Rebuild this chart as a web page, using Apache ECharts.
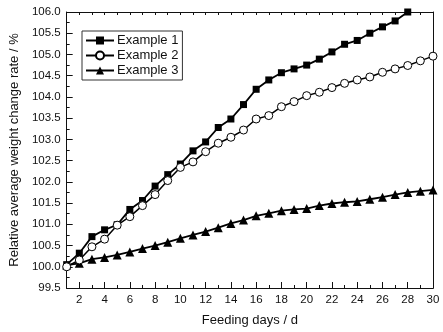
<!DOCTYPE html>
<html>
<head>
<meta charset="utf-8">
<script src="https://cdn.jsdelivr.net/npm/echarts@6/dist/echarts.min.js"></script>
<style>
  html, body { margin: 0; padding: 0; background: #fff; }
  #chart { width: 443px; height: 332px; }
</style>
</head>
<body>
<div id="chart"></div>
<script>
// Feeding days 1..30
const days = Array.from({ length: 30 }, (_, i) => i + 1);

// Relative average weight change rate (%) per example
const example1 = [100.05, 100.32, 100.71, 100.87, 100.99, 101.35, 101.56, 101.90, 102.17, 102.42,
                  102.73, 102.94, 103.28, 103.48, 103.82, 104.18, 104.40, 104.57, 104.66, 104.75,
                  104.89, 105.06, 105.24, 105.33, 105.50, 105.65, 105.79, 106.00, 106.16, 106.32];
const example2 = [100.00, 100.16, 100.47, 100.65, 100.98, 101.18, 101.44, 101.70, 102.03, 102.34,
                  102.47, 102.71, 102.91, 103.05, 103.22, 103.48, 103.56, 103.77, 103.89, 104.03,
                  104.11, 104.22, 104.32, 104.40, 104.47, 104.58, 104.66, 104.74, 104.85, 104.96];
const example3 = [100.04, 100.08, 100.18, 100.22, 100.28, 100.35, 100.43, 100.50, 100.58, 100.67,
                  100.75, 100.83, 100.92, 101.02, 101.10, 101.20, 101.26, 101.32, 101.35, 101.37,
                  101.44, 101.49, 101.52, 101.54, 101.59, 101.64, 101.70, 101.75, 101.78, 101.81];

const seriesNames = ['Example 1', 'Example 2', 'Example 3'];

// Axis ticks
const xMajorTicks = [2, 4, 6, 8, 10, 12, 14, 16, 18, 20, 22, 24, 26, 28, 30];
const xMinorTicks = [1, 3, 5, 7, 9, 11, 13, 15, 17, 19, 21, 23, 25, 27, 29];
const yMin = 99.5, yMax = 106.0, yStep = 0.5;

const FONT = 'Liberation Sans, Arial, sans-serif';
const INK = '#111';

const pairs = arr => days.map((d, i) => [d, arr[i]]);

const chart = echarts.init(document.getElementById('chart'), null, { renderer: 'canvas' });

const baseX = {
  type: 'value', min: 1, max: 30,
  splitLine: { show: false },
  axisLine: { show: true, onZero: false, lineStyle: { color: INK, width: 1 } }
};

chart.setOption({
  animation: false,
  backgroundColor: '#fff',
  grid: { left: 59, right: 10, top: 12, bottom: 44, containLabel: false },
  legend: {
    orient: 'vertical', left: 82, top: 31,
    data: seriesNames,
    itemWidth: 28, itemHeight: 10, itemGap: 2,
    padding: [3, 4, 3, 3],
    borderColor: '#333', borderWidth: 1,
    textStyle: { fontFamily: FONT, fontSize: 13, lineHeight: 13, color: INK, padding: [0, 0, 0, -2] }
  },
  xAxis: [
    Object.assign({}, baseX, {
      position: 'bottom',
      name: 'Feeding days / d', nameLocation: 'middle', nameGap: 26,
      nameTextStyle: { fontFamily: FONT, fontSize: 13, color: INK },
      axisTick: { show: true, inside: true, length: 6, customValues: xMajorTicks, lineStyle: { color: INK } },
      axisLabel: { show: true, customValues: xMajorTicks, fontFamily: FONT, fontSize: 11.5, color: INK, margin: 6 }
    }),
    Object.assign({}, baseX, {
      position: 'bottom',
      axisTick: { show: true, inside: true, length: 3, customValues: xMinorTicks, lineStyle: { color: INK } },
      axisLabel: { show: false }
    }),
    Object.assign({}, baseX, {
      position: 'top',
      axisTick: { show: true, inside: true, length: 3, customValues: xMajorTicks.concat(xMinorTicks), lineStyle: { color: INK } },
      axisLabel: { show: false }
    })
  ],
  yAxis: [
    {
      type: 'value', min: yMin, max: yMax, interval: yStep, position: 'left',
      name: 'Relative average weight change rate / %', nameLocation: 'middle', nameGap: 42,
      nameTextStyle: { fontFamily: FONT, fontSize: 13, color: INK },
      splitLine: { show: false },
      axisLine: { show: true, onZero: false, lineStyle: { color: INK, width: 1 } },
      axisTick: { show: true, inside: true, length: 6, lineStyle: { color: INK } },
      minorTick: { show: true, splitNumber: 2, length: 3, lineStyle: { color: INK } },
      axisLabel: { fontFamily: FONT, fontSize: 11.5, color: INK, margin: 6, formatter: v => v.toFixed(1) }
    },
    {
      type: 'value', min: yMin, max: yMax, interval: yStep, position: 'right',
      splitLine: { show: false },
      axisLine: { show: true, onZero: false, lineStyle: { color: INK, width: 1 } },
      axisTick: { show: false }, axisLabel: { show: false }
    }
  ],
  series: [
    {
      name: seriesNames[0], type: 'line', data: pairs(example1), clip: true,
      symbol: 'rect', symbolSize: 7, showAllSymbol: true,
      lineStyle: { color: '#000', width: 1.8 },
      itemStyle: { color: '#000', borderColor: '#000', borderWidth: 0 },
      z: 3
    },
    {
      name: seriesNames[1], type: 'line', data: pairs(example2), clip: true,
      symbol: 'circle', symbolSize: 8, showAllSymbol: true,
      lineStyle: { color: '#000', width: 1.5 },
      itemStyle: { color: '#fff', borderColor: '#000', borderWidth: 1 },
      z: 4
    },
    {
      name: seriesNames[2], type: 'line', data: pairs(example3), clip: true,
      symbol: 'triangle', symbolSize: 9, showAllSymbol: true,
      lineStyle: { color: '#000', width: 1.8 },
      itemStyle: { color: '#000', borderColor: '#000', borderWidth: 0 },
      z: 3
    }
  ]
});
</script>
</body>
</html>
